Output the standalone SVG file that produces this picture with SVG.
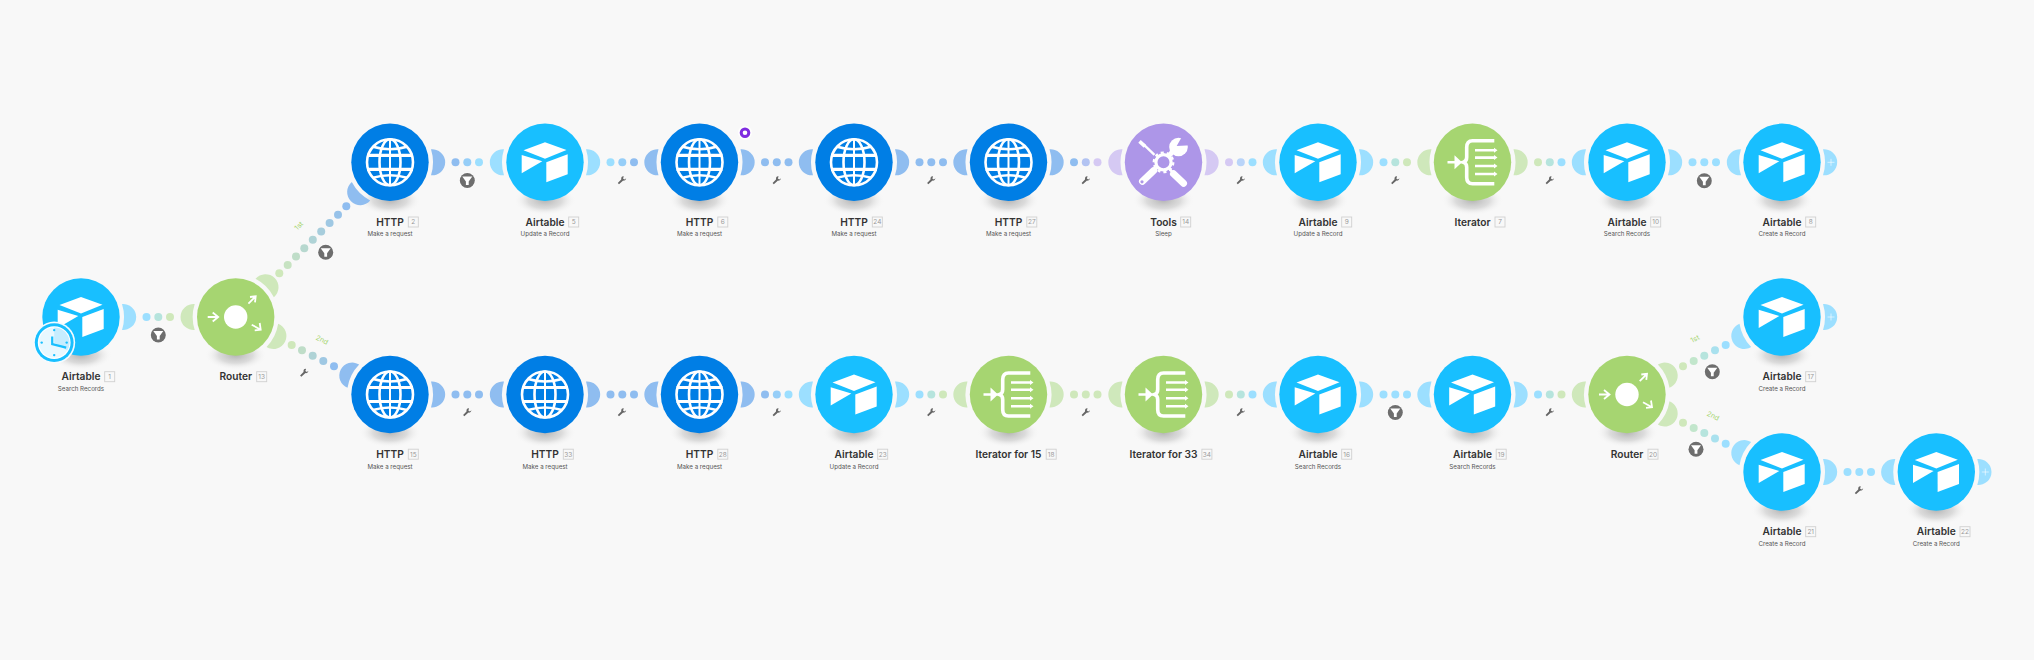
<svg xmlns="http://www.w3.org/2000/svg" width="2034" height="660" viewBox="0 0 2034 660">
<style>
.t{font:600 10.2px Inter,"Liberation Sans",sans-serif;fill:#333;text-anchor:middle}
.s{font:400 6.2px Inter,"Liberation Sans",sans-serif;fill:#555;text-anchor:middle}
.n{font:400 6.5px Inter,"Liberation Sans",sans-serif;fill:#999;text-anchor:middle}
.l{font:400 7px Inter,"Liberation Sans",sans-serif;fill:#a6d571;text-anchor:middle}
.b{fill:none;stroke:#d0d0d0;stroke-width:.9}
.ca{fill:#18bfff}.ch{fill:#007ee5}.cg{fill:#a6d571}.cp{fill:#ad96e8}
.a{fill:#9cdfff}.h{fill:#8fbdf0}.g{fill:#cfe8bb}.p{fill:#d5c9f3}
.w{fill:none;stroke:#fff;stroke-width:1.8}
</style>
<defs>
<radialGradient id="sg"><stop offset="0" stop-color="#b4b4b4"/><stop offset=".55" stop-color="#d2d2d2" stop-opacity=".75"/><stop offset="1" stop-color="#f8f8f8" stop-opacity="0"/></radialGradient>
<ellipse id="shadow" cx="0" cy="38" rx="31" ry="15" fill="url(#sg)"/>
<path id="port" d="M41-13A13.05 13.05 0 1 1 41 13A43 43 0 0 0 41-13Z"/>
<path id="plus" d="M45.5 0h7M49-3.5v7" stroke="#fff" stroke-opacity=".65" stroke-width=".9" fill="none"/>
<g id="i-air" fill="#fff">
<path d="M0-20L21.5-12.3L0-3.5L-21.5-12Z"/>
<path d="M-23.3-7.3L-2.7-1L-23.3 11Z"/>
<path d="M22.7-8V12L1.3 20V0Z"/>
</g>
<g id="i-http" fill="none" stroke="#fff" stroke-width="2.6">
<circle r="23"/>
<ellipse rx="10.5" ry="23"/>
<path d="M0-23V23" stroke-width="2"/>
<path d="M-23-7H23M-23 7H23" stroke-width="3.2"/>
<path d="M-17-15.5Q0-10.5 17-15.5M-17 15.5Q0 10.5 17 15.5"/>
</g>
<g id="i-router">
<circle r="11.7" fill="#fff"/>
<path class="w" d="M-28 0H-18M-23-4.5L-17.5 0L-23 4.5M12.7-13.3L20-20.7M14.3-20L20-20.7L19.3-14.7M16 7.7L25 12.7M19 13.3L25 12.7L24 6"/>
</g>
<g id="i-iter">
<path fill="none" stroke="#fff" stroke-width="3.6" d="M21.8-21.5H0Q-5.8-21.5-5.8-15V-5Q-5.8-1-9 0Q-5.8 1-5.8 5V15Q-5.8 21.5 0 21.5H21.8"/>
<path stroke="#fff" stroke-width="2.6" d="M2.5-12H22M2.5-4.7H22M2.5 3.7H22M2.5 11.7H22M-25 0H-14"/>
<path fill="#fff" d="M21.5-14.5L25-12L21.5-9.5ZM21.5-7.2L25-4.7L21.5-2.2ZM21.5 1.2L25 3.7L21.5 6.2ZM21.5 9.2L25 11.7L21.5 14.2ZM-18-7L-10.5 0L-18 7Z"/>
</g>
<g id="i-tools">
<path stroke="#fff" stroke-width="2.4" d="M-9-7.5L-20-18"/>
<path stroke="#fff" stroke-width="3.6" d="M-24-21L-18.5-16"/>
<path stroke="#fff" stroke-width="7" stroke-linecap="round" d="M10 11.5L20 21"/>
<path stroke="#fff" stroke-width="2.6" d="M5.5 6L10 11"/>
<path stroke="#fff" stroke-width="7" stroke-linecap="round" d="M-21 19L-10 8.5"/>
<path stroke="#fff" stroke-width="3" d="M-10 8.5L-6 5"/>
<circle cx="-21.5" cy="19.5" r="1.6" fill="#ad96e8"/>
<path stroke="#fff" stroke-width="5" d="M5-6L11-13"/>
<circle cx="15" cy="-15.3" r="9.3" fill="#fff"/>
<path fill="#ad96e8" d="M13.2-16.3L19-26.5L27.5-17Z"/>
<circle r="7.6" fill="none" stroke="#fff" stroke-width="3.2"/>
<circle r="9.8" fill="none" stroke="#fff" stroke-width="2.2" stroke-dasharray="3.1 3.05"/>
</g>
<g id="f">
<circle r="8.2" fill="#fff" fill-opacity=".6"/><circle r="7.5" fill="#6e6e6e"/>
<path fill="#fff" d="M-5-4H5L1.4 1V4.5H-1.4V1Z"/>
</g>
<path id="wr" fill="#666" d="M-4.2 3L-3 4.2L1.2 .6Q3.8 1 4.2-1.8L2.6-.6L1-1.6L1.8-3.6Q-1-4-.8-.6Z"/>
<g id="dots"><circle cx="65.5" r="4"/><circle cx="77.3" r="4"/><circle cx="89" r="4"/></g>
</defs>
<rect width="2034" height="660" fill="#f8f8f8"/>

<g id="connectors">
<g transform="translate(81,317)"><circle class="a" cx="65.5" r="4"/><circle fill="#b6e4dd" cx="77.3" r="4"/><circle class="g" cx="89" r="4"/></g>
<g id="c13-2">
<circle cx="279.3" cy="273.3" r="4" fill="#cfe8bb"/><circle cx="287.7" cy="265" r="4" fill="#c7e3c2"/><circle cx="296" cy="256.6" r="4" fill="#bfddc8"/><circle cx="304.3" cy="248.3" r="4" fill="#b7d8cf"/><circle cx="312.8" cy="239.8" r="4" fill="#afd3d6"/><circle cx="321.2" cy="231.4" r="4" fill="#a7cddc"/><circle cx="329.6" cy="223" r="4" fill="#9fc8e3"/><circle cx="338" cy="214.7" r="4" fill="#97c2e9"/><circle cx="346.3" cy="206.3" r="4" fill="#8fbdf0"/>
</g>
<g id="c13-15">
<circle cx="291.7" cy="345" r="4" fill="#cfe8bb"/><circle cx="302" cy="350.3" r="4" fill="#bfddc8"/><circle cx="312.7" cy="355.7" r="4" fill="#afd3d6"/><circle cx="323.3" cy="361" r="4" fill="#9fc8e3"/><circle cx="334" cy="366.3" r="4" fill="#8fbdf0"/>
</g>
<g id="c20-17">
<circle cx="1683" cy="366.3" r="4" fill="#cfe8bb"/><circle cx="1693.7" cy="361" r="4" fill="#c2e6cc"/><circle cx="1704.3" cy="355.7" r="4" fill="#b6e4dd"/><circle cx="1715" cy="350.3" r="4" fill="#a9e1ee"/><circle cx="1725.7" cy="345" r="4" fill="#9cdfff"/>
</g>
<g id="c20-21">
<circle cx="1683" cy="422.7" r="4" fill="#cfe8bb"/><circle cx="1693.7" cy="427.9" r="4" fill="#c2e6cc"/><circle cx="1704.3" cy="433.1" r="4" fill="#b6e4dd"/><circle cx="1715" cy="438.4" r="4" fill="#a9e1ee"/><circle cx="1725.7" cy="443.7" r="4" fill="#9cdfff"/>
</g>
<g transform="translate(390,162.3)"><circle class="h" cx="65.5" r="4"/><circle fill="#96cef8" cx="77.3" r="4"/><circle class="a" cx="89" r="4"/></g>
<g transform="translate(545,162.3)"><circle class="a" cx="65.5" r="4"/><circle fill="#96cef8" cx="77.3" r="4"/><circle class="h" cx="89" r="4"/></g>
<use href="#dots" class="h" transform="translate(699.5,162.3)"/>
<use href="#dots" class="h" transform="translate(854,162.3)"/>
<g transform="translate(1008.5,162.3)"><circle class="h" cx="65.5" r="4"/><circle fill="#b2c3f2" cx="77.3" r="4"/><circle class="p" cx="89" r="4"/></g>
<g transform="translate(1163.5,162.3)"><circle class="p" cx="65.5" r="4"/><circle fill="#b9d4f9" cx="77.3" r="4"/><circle class="a" cx="89" r="4"/></g>
<g transform="translate(1318,162.3)"><circle class="a" cx="65.5" r="4"/><circle fill="#b6e4dd" cx="77.3" r="4"/><circle class="g" cx="89" r="4"/></g>
<g transform="translate(1472.5,162.3)"><circle class="g" cx="65.5" r="4"/><circle fill="#b6e4dd" cx="77.3" r="4"/><circle class="a" cx="89" r="4"/></g>
<use href="#dots" class="a" transform="translate(1627,162.3)"/>
<use href="#dots" class="h" transform="translate(390,394.5)"/>
<use href="#dots" class="h" transform="translate(545,394.5)"/>
<g transform="translate(699.5,394.5)"><circle class="h" cx="65.5" r="4"/><circle fill="#96cef8" cx="77.3" r="4"/><circle class="a" cx="89" r="4"/></g>
<g transform="translate(854,394.5)"><circle class="a" cx="65.5" r="4"/><circle fill="#b6e4dd" cx="77.3" r="4"/><circle class="g" cx="89" r="4"/></g>
<use href="#dots" class="g" transform="translate(1008.5,394.5)"/>
<g transform="translate(1163.5,394.5)"><circle class="g" cx="65.5" r="4"/><circle fill="#b6e4dd" cx="77.3" r="4"/><circle class="a" cx="89" r="4"/></g>
<use href="#dots" class="a" transform="translate(1318,394.5)"/>
<g transform="translate(1472.5,394.5)"><circle class="a" cx="65.5" r="4"/><circle fill="#b6e4dd" cx="77.3" r="4"/><circle class="g" cx="89" r="4"/></g>
<use href="#dots" class="a" transform="translate(1782,472)"/>

<use href="#f" x="158.3" y="335"/>
<use href="#f" x="325.7" y="252.3"/>
<use href="#f" x="467.3" y="180.5"/>
<use href="#f" x="1704.3" y="180.7"/>
<use href="#f" x="1395.3" y="412.5"/>
<use href="#f" x="1712.3" y="371.7"/>
<use href="#f" x="1696" y="449.3"/>

<use href="#wr" x="622" y="180"/><use href="#wr" x="776.8" y="180"/><use href="#wr" x="931.3" y="180"/><use href="#wr" x="1085.8" y="180"/><use href="#wr" x="1240.8" y="180"/><use href="#wr" x="1395.3" y="180"/><use href="#wr" x="1549.8" y="180"/>
<use href="#wr" x="304.3" y="372.5"/><use href="#wr" x="467.3" y="412"/><use href="#wr" x="622" y="412"/><use href="#wr" x="776.8" y="412"/><use href="#wr" x="931.3" y="412"/><use href="#wr" x="1085.8" y="412"/><use href="#wr" x="1240.8" y="412"/><use href="#wr" x="1549.8" y="412"/><use href="#wr" x="1859" y="490"/>

<text class="l" transform="translate(300.5,227.5) rotate(-45)">1st</text>
<text class="l" transform="translate(321,342) rotate(26.6)">2nd</text>
<text class="l" transform="translate(1696,341) rotate(-26.6)">1st</text>
<text class="l" transform="translate(1712,418) rotate(26.6)">2nd</text>
</g>

<g id="node-1" transform="translate(81,317)"><use href="#shadow"/><use href="#port" class="a"/><circle class="ca" r="38.7"/><use href="#i-air"/>
<text class="t" y="63.3">Airtable</text><rect class="b" x="23.7" y="54.7" width="10" height="10"/><text class="n" x="28.7" y="62">1</text><text class="s" y="74">Search Records</text>
<g id="clock" transform="translate(-26.8,25.6)"><circle r="21" fill="#f4fbff"/><circle r="19.4" fill="#18bfff"/><circle r="16.4" fill="#fff"/><circle r="15.2" fill="#e8f8ff"/><path d="M0 0V-15.2A15.2 15.2 0 0 1 13 8Z" fill="#c6edff"/><path d="M-2-6V1.5L12 5" fill="none" stroke="#18bfff" stroke-width="2.2"/><g fill="#18bfff"><circle cy="-12.5" r="1.2"/><circle cx="12.5" r="1.2"/><circle cy="12.5" r="1.2"/><circle cx="-12.5" r="1.2"/></g></g></g>

<g id="node-13" transform="translate(235.7,317)"><use href="#shadow"/><use href="#port" class="g" transform="rotate(180)"/><use href="#port" class="g" transform="rotate(-45)"/><use href="#port" class="g" transform="rotate(26.6)"/><circle class="cg" r="38.7"/><use href="#i-router"/>
<text class="t" y="63.3">Router</text><rect class="b" x="21" y="54.7" width="10" height="10"/><text class="n" x="26" y="62">13</text></g>

<g id="node-2" transform="translate(390,162.3)"><use href="#shadow"/><use href="#port" class="h" transform="rotate(135)"/><use href="#port" class="h"/><circle class="ch" r="38.7"/><use href="#i-http"/>
<text class="t" y="63.3">HTTP</text><rect class="b" x="18.3" y="54.7" width="10" height="10"/><text class="n" x="23.3" y="62">2</text><text class="s" y="74">Make a request</text></g>

<g id="node-5" transform="translate(545,162.3)"><use href="#shadow"/><use href="#port" class="a" transform="rotate(180)"/><use href="#port" class="a"/><circle class="ca" r="38.7"/><use href="#i-air"/>
<text class="t" y="63.3">Airtable</text><rect class="b" x="23.7" y="54.7" width="10" height="10"/><text class="n" x="28.7" y="62">5</text><text class="s" y="74">Update a Record</text></g>

<g id="node-6" transform="translate(699.5,162.3)"><use href="#shadow"/><use href="#port" class="h" transform="rotate(180)"/><use href="#port" class="h"/><circle class="ch" r="38.7"/><use href="#i-http"/>
<text class="t" y="63.3">HTTP</text><rect class="b" x="18.3" y="54.7" width="10" height="10"/><text class="n" x="23.3" y="62">6</text><text class="s" y="74">Make a request</text>
<g id="note" transform="translate(45.5,-29.6)"><circle r="7" fill="#fff" fill-opacity=".85"/><circle r="3.8" fill="#fff" stroke="#7f2ce0" stroke-width="3"/></g></g>

<g id="node-24" transform="translate(854,162.3)"><use href="#shadow"/><use href="#port" class="h" transform="rotate(180)"/><use href="#port" class="h"/><circle class="ch" r="38.7"/><use href="#i-http"/>
<text class="t" y="63.3">HTTP</text><rect class="b" x="18.3" y="54.7" width="10" height="10"/><text class="n" x="23.3" y="62">24</text><text class="s" y="74">Make a request</text></g>

<g id="node-27" transform="translate(1008.5,162.3)"><use href="#shadow"/><use href="#port" class="h" transform="rotate(180)"/><use href="#port" class="h"/><circle class="ch" r="38.7"/><use href="#i-http"/>
<text class="t" y="63.3">HTTP</text><rect class="b" x="18.3" y="54.7" width="10" height="10"/><text class="n" x="23.3" y="62">27</text><text class="s" y="74">Make a request</text></g>

<g id="node-14" transform="translate(1163.5,162.3)"><use href="#shadow"/><use href="#port" class="p" transform="rotate(180)"/><use href="#port" class="p"/><circle class="cp" r="38.7"/><use href="#i-tools"/>
<text class="t" y="63.3">Tools</text><rect class="b" x="17.2" y="54.7" width="10" height="10"/><text class="n" x="22.2" y="62">14</text><text class="s" y="74">Sleep</text></g>

<g id="node-9" transform="translate(1318,162.3)"><use href="#shadow"/><use href="#port" class="a" transform="rotate(180)"/><use href="#port" class="a"/><circle class="ca" r="38.7"/><use href="#i-air"/>
<text class="t" y="63.3">Airtable</text><rect class="b" x="23.7" y="54.7" width="10" height="10"/><text class="n" x="28.7" y="62">9</text><text class="s" y="74">Update a Record</text></g>

<g id="node-7" transform="translate(1472.5,162.3)"><use href="#shadow"/><use href="#port" class="g" transform="rotate(180)"/><use href="#port" class="g"/><circle class="cg" r="38.7"/><use href="#i-iter"/>
<text class="t" y="63.3">Iterator</text><rect class="b" x="22.5" y="54.7" width="10" height="10"/><text class="n" x="27.5" y="62">7</text></g>

<g id="node-10" transform="translate(1627,162.3)"><use href="#shadow"/><use href="#port" class="a" transform="rotate(180)"/><use href="#port" class="a"/><circle class="ca" r="38.7"/><use href="#i-air"/>
<text class="t" y="63.3">Airtable</text><rect class="b" x="23.7" y="54.7" width="10" height="10"/><text class="n" x="28.7" y="62">10</text><text class="s" y="74">Search Records</text></g>

<g id="node-8" transform="translate(1782,162.3)"><use href="#shadow"/><use href="#port" class="a" transform="rotate(180)"/><use href="#port" class="a"/><use href="#plus"/><circle class="ca" r="38.7"/><use href="#i-air"/>
<text class="t" y="63.3">Airtable</text><rect class="b" x="23.7" y="54.7" width="10" height="10"/><text class="n" x="28.7" y="62">8</text><text class="s" y="74">Create a Record</text></g>

<g id="node-15" transform="translate(390,394.5)"><use href="#shadow"/><use href="#port" class="h" transform="rotate(206.6)"/><use href="#port" class="h"/><circle class="ch" r="38.7"/><use href="#i-http"/>
<text class="t" y="63.3">HTTP</text><rect class="b" x="18.3" y="54.7" width="10" height="10"/><text class="n" x="23.3" y="62">15</text><text class="s" y="74">Make a request</text></g>

<g id="node-33" transform="translate(545,394.5)"><use href="#shadow"/><use href="#port" class="h" transform="rotate(180)"/><use href="#port" class="h"/><circle class="ch" r="38.7"/><use href="#i-http"/>
<text class="t" y="63.3">HTTP</text><rect class="b" x="18.3" y="54.7" width="10" height="10"/><text class="n" x="23.3" y="62">33</text><text class="s" y="74">Make a request</text></g>

<g id="node-28" transform="translate(699.5,394.5)"><use href="#shadow"/><use href="#port" class="h" transform="rotate(180)"/><use href="#port" class="h"/><circle class="ch" r="38.7"/><use href="#i-http"/>
<text class="t" y="63.3">HTTP</text><rect class="b" x="18.3" y="54.7" width="10" height="10"/><text class="n" x="23.3" y="62">28</text><text class="s" y="74">Make a request</text></g>

<g id="node-23" transform="translate(854,394.5)"><use href="#shadow"/><use href="#port" class="a" transform="rotate(180)"/><use href="#port" class="a"/><circle class="ca" r="38.7"/><use href="#i-air"/>
<text class="t" y="63.3">Airtable</text><rect class="b" x="23.7" y="54.7" width="10" height="10"/><text class="n" x="28.7" y="62">23</text><text class="s" y="74">Update a Record</text></g>

<g id="node-18" transform="translate(1008.5,394.5)"><use href="#shadow"/><use href="#port" class="g" transform="rotate(180)"/><use href="#port" class="g"/><circle class="cg" r="38.7"/><use href="#i-iter"/>
<text class="t" y="63.3">Iterator for 15</text><rect class="b" x="37.7" y="54.7" width="10" height="10"/><text class="n" x="42.7" y="62">18</text></g>

<g id="node-34" transform="translate(1163.5,394.5)"><use href="#shadow"/><use href="#port" class="g" transform="rotate(180)"/><use href="#port" class="g"/><circle class="cg" r="38.7"/><use href="#i-iter"/>
<text class="t" y="63.3">Iterator for 33</text><rect class="b" x="38.4" y="54.7" width="10" height="10"/><text class="n" x="43.4" y="62">34</text></g>

<g id="node-16" transform="translate(1318,394.5)"><use href="#shadow"/><use href="#port" class="a" transform="rotate(180)"/><use href="#port" class="a"/><circle class="ca" r="38.7"/><use href="#i-air"/>
<text class="t" y="63.3">Airtable</text><rect class="b" x="23.7" y="54.7" width="10" height="10"/><text class="n" x="28.7" y="62">16</text><text class="s" y="74">Search Records</text></g>

<g id="node-19" transform="translate(1472.5,394.5)"><use href="#shadow"/><use href="#port" class="a" transform="rotate(180)"/><use href="#port" class="a"/><circle class="ca" r="38.7"/><use href="#i-air"/>
<text class="t" y="63.3">Airtable</text><rect class="b" x="23.7" y="54.7" width="10" height="10"/><text class="n" x="28.7" y="62">19</text><text class="s" y="74">Search Records</text></g>

<g id="node-20" transform="translate(1627,394.5)"><use href="#shadow"/><use href="#port" class="g" transform="rotate(180)"/><use href="#port" class="g" transform="rotate(-26.6)"/><use href="#port" class="g" transform="rotate(26.6)"/><circle class="cg" r="38.7"/><use href="#i-router"/>
<text class="t" y="63.3">Router</text><rect class="b" x="21" y="54.7" width="10" height="10"/><text class="n" x="26" y="62">20</text></g>

<g id="node-17" transform="translate(1782,317)"><use href="#shadow"/><use href="#port" class="a" transform="rotate(153.4)"/><use href="#port" class="a"/><use href="#plus"/><circle class="ca" r="38.7"/><use href="#i-air"/>
<text class="t" y="63.3">Airtable</text><rect class="b" x="23.7" y="54.7" width="10" height="10"/><text class="n" x="28.7" y="62">17</text><text class="s" y="74">Create a Record</text></g>

<g id="node-21" transform="translate(1782,472)"><use href="#shadow"/><use href="#port" class="a" transform="rotate(206.6)"/><use href="#port" class="a"/><circle class="ca" r="38.7"/><use href="#i-air"/>
<text class="t" y="63.3">Airtable</text><rect class="b" x="23.7" y="54.7" width="10" height="10"/><text class="n" x="28.7" y="62">21</text><text class="s" y="74">Create a Record</text></g>

<g id="node-22" transform="translate(1936.3,472)"><use href="#shadow"/><use href="#port" class="a" transform="rotate(180)"/><use href="#port" class="a"/><use href="#plus"/><circle class="ca" r="38.7"/><use href="#i-air"/>
<text class="t" y="63.3">Airtable</text><rect class="b" x="23.7" y="54.7" width="10" height="10"/><text class="n" x="28.7" y="62">22</text><text class="s" y="74">Create a Record</text></g>
</svg>
